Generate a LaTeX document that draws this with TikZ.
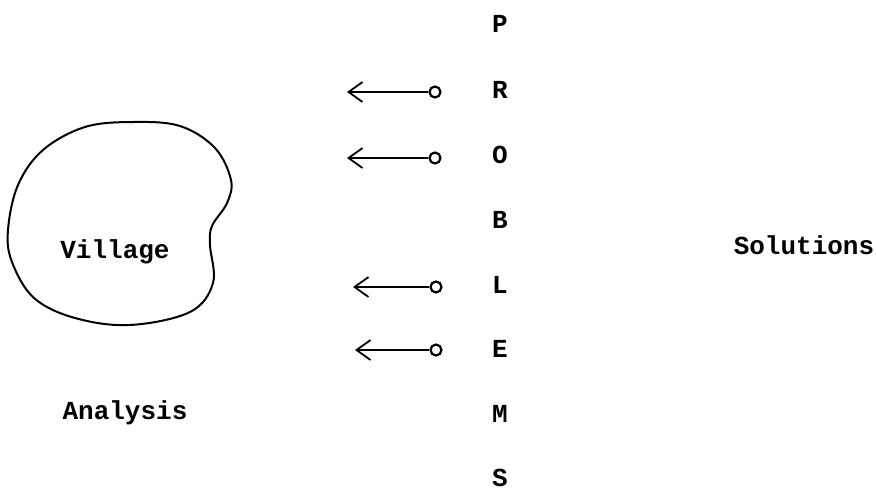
\documentclass[tikz,border=0pt]{standalone}
\usepackage{fontspec}
\setmonofont{Liberation Mono}
\usetikzlibrary{arrows.meta}
\tikzset{
  LetterStyle/.style = { font = \ttfamily\bfseries\fontsize{26}{30}\selectfont,
                         inner sep = 0pt },
  EndStyle/.style = { circle, draw, line width = 2.2pt, minimum size = 11pt,
                      inner sep = 0pt },
  LinkStyle/.style = { line width = 2pt,
                       -{Straight Barb[length=14pt,width=20pt,line width=1.8pt]} } }

\begin{document}
\begin{tikzpicture}[x=1pt,y=-1pt]
  \useasboundingbox (0,0) rectangle (876,491);
  \tikzstyle{TextStyle}=[LetterStyle]

  % the village
  \draw[line width=2pt] plot[smooth cycle, tension=0.6] coordinates {
    (133,122) (180,126) (215,148) (231,180) (227,203) (212,226) (210,245)
    (213,283) (190,312) (130,325) (75,318) (34,298) (12,262) (8,230)
    (18,185) (43,150) (85,127)};
  \node[TextStyle] (village) at (115,252) {Village};
  \node[TextStyle] (analysis) at (125,413) {Analysis};
  \node[TextStyle] (solutions) at (804,245) {Solutions};

  % the word down the middle
  \node[TextStyle] (P) at (500,24) {P};
  \node[TextStyle] (R) at (500,90) {R};
  \node[TextStyle] (O) at (500,155) {O};
  \node[TextStyle] (B) at (500,220) {B};
  \node[TextStyle] (L) at (500,285) {L};
  \node[TextStyle] (E) at (500,349) {E};
  \node[TextStyle] (M) at (500,414) {M};
  \node[TextStyle] (S) at (500,478) {S};

  \node[EndStyle] (r1) at (435,92) {};
  \node[EndStyle] (o1) at (435,158) {};
  \node[EndStyle] (l1) at (436,287) {};
  \node[EndStyle] (e1) at (436,350) {};
  \coordinate (r2) at (347,92);
  \coordinate (o2) at (347,158);
  \coordinate (l2) at (353,287);
  \coordinate (e2) at (355,350);

  \draw[LinkStyle] (r1) -- (r2);
  \draw[LinkStyle] (o1) -- (o2);
  \draw[LinkStyle] (l1) -- (l2);
  \draw[LinkStyle] (e1) -- (e2);
\end{tikzpicture}
\end{document}
